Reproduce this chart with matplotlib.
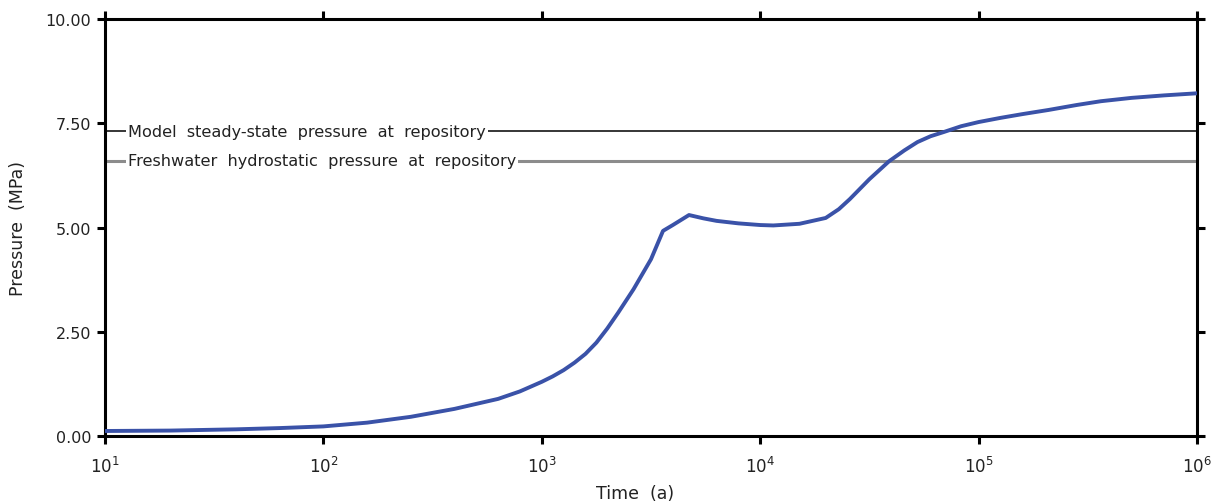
import matplotlib.pyplot as plt
import numpy as np

plt.rcParams['font.family'] = ['DejaVu Sans']
plt.rcParams['mathtext.fontset'] = 'dejavusans'

# log10 of time (a) and pressure (MPa)
log_time = [1.0, 1.3, 1.6, 1.8, 2.0, 2.2, 2.4, 2.6, 2.8, 2.9, 3.0, 3.05, 3.1,
            3.15, 3.2, 3.25, 3.3, 3.35, 3.42, 3.50, 3.555, 3.6, 3.674, 3.74,
            3.8, 3.9, 4.0, 4.06, 4.18, 4.30, 4.36, 4.41, 4.50, 4.59, 4.66,
            4.72, 4.78, 4.84, 4.92, 5.0, 5.1, 5.2, 5.32, 5.45, 5.56, 5.7,
            5.85, 6.0]
pressure = [0.12, 0.13, 0.16, 0.19, 0.23, 0.32, 0.46, 0.65, 0.89, 1.07, 1.30,
            1.43, 1.58, 1.76, 1.97, 2.24, 2.58, 2.96, 3.52, 4.24, 4.92, 5.06,
            5.30, 5.22, 5.16, 5.10, 5.06, 5.05, 5.09, 5.23, 5.44, 5.68, 6.16,
            6.59, 6.85, 7.05, 7.19, 7.29, 7.43, 7.53, 7.63, 7.72, 7.82, 7.94,
            8.03, 8.11, 8.17, 8.22]
time_a = 10 ** np.array(log_time)

steady_state = 7.31
hydrostatic = 6.60

fig = plt.figure(figsize=(12.14, 5.02), dpi=100)
ax = fig.add_axes([0.0865, 0.1295, 0.8995, 0.8305])

ax.axhline(steady_state, color='black', lw=1.1, zorder=1)
ax.axhline(hydrostatic, color='#8c8c8c', lw=2.2, zorder=1)
ax.plot(time_a, pressure, color='#3a52a8', lw=2.8, zorder=3,
        solid_capstyle='round', solid_joinstyle='round')

ax.text(10**1.105, steady_state, 'Model  steady-state  pressure  at  repository',
        fontsize=11.6, va='center', ha='left', color='#222222', zorder=2,
        bbox=dict(facecolor='white', edgecolor='none', pad=1.5))
ax.text(10**1.105, hydrostatic, 'Freshwater  hydrostatic  pressure  at  repository',
        fontsize=11.6, va='center', ha='left', color='#222222', zorder=2,
        bbox=dict(facecolor='white', edgecolor='none', pad=1.5))

ax.set_xscale('log')
ax.set_xlim(10, 1e6)
ax.set_ylim(0, 10)
ax.set_xticks([1e1, 1e2, 1e3, 1e4, 1e5, 1e6])
ax.set_xticklabels([r'$\mathregular{10^{%d}}$' % k for k in range(1, 7)])
ax.minorticks_off()
ax.set_yticks([0, 2.5, 5, 7.5, 10])
ax.set_yticklabels(['%.2f' % v for v in [0, 2.5, 5, 7.5, 10]])

for s in ax.spines.values():
    s.set_linewidth(2.2)
ax.tick_params(which='major', direction='out', length=6, width=2.2,
               labelsize=11.5, colors='black', labelcolor='#222222',
               top=True, right=True, pad=4)
ax.tick_params(axis='x', pad=8, labelsize=12)

ax.set_xlabel('Time  (a)', fontsize=12.5, color='#222222')
ax.xaxis.set_label_coords(0.485, -0.115)
ax.set_ylabel('Pressure  (MPa)', fontsize=12.5, color='#222222')
ax.yaxis.set_label_coords(-0.071, 0.5)

fig.savefig('out.png', dpi=100)
